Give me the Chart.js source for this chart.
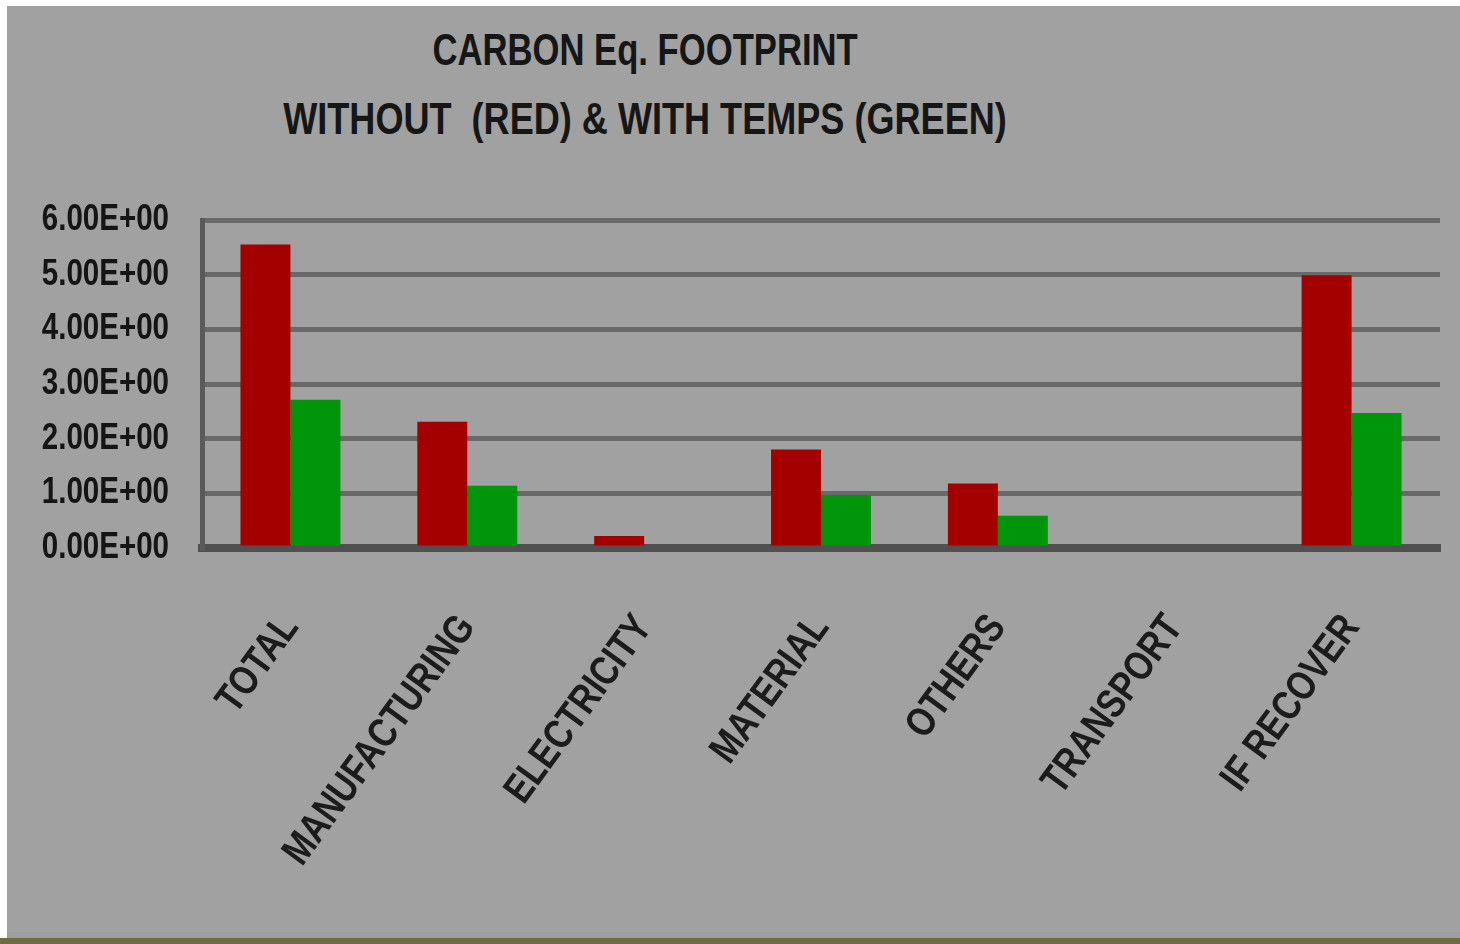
<!DOCTYPE html>
<html>
<head>
<meta charset="utf-8">
<title>Carbon Eq. Footprint</title>
<script src="https://cdn.jsdelivr.net/npm/chart.js@4.4.1/dist/chart.umd.min.js"></script>
<style>
  html, body { margin: 0; padding: 0; background: #ffffff; }
  #page { position: relative; width: 1460px; height: 944px; overflow: hidden; }
  #panel { position: absolute; left: 7px; top: 6px; right: 0; bottom: 6px; background: #a1a1a1; }
  #edge { position: absolute; left: 7px; right: 0; bottom: 6px; height: 6px; background: #9d9da1; }
  #strip { position: absolute; left: 0; right: 0; bottom: 0; height: 6px; background: #6d6c47; }
  #title {
    position: absolute; left: 0; top: 15px; width: 1290px;
    text-align: center; white-space: pre;
    font-family: 'Liberation Sans', Arial, sans-serif;
    font-weight: bold; font-size: 44px; line-height: 69px; color: #161616;
    transform: scaleX(0.82); transform-origin: 645px 0;
  }
  #title .l1 { display: inline-block; transform: scaleX(0.96); }
  canvas { position: absolute; left: 0; top: 0; }
</style>
</head>
<body>
<div id="page">
  <div id="panel"></div>
  <div id="edge"></div>
  <div id="strip"></div>
  <div id="title"><span class="l1">CARBON Eq. FOOTPRINT</span>
WITHOUT  (RED) &amp; WITH TEMPS (GREEN)</div>
  <canvas id="chart" width="1460" height="944"></canvas>
</div>
<script>
// Footprint categories and the two series (without / with temps)
const categories = ['TOTAL', 'MANUFACTURING', 'ELECTRICITY', 'MATERIAL', 'OTHERS', 'TRANSPORT', 'IF RECOVER'];
const withoutTemps = [5.55, 2.31, 0.22, 1.80, 1.18, 0, 4.99];
const withTemps = [2.71, 1.14, 0, 0.97, 0.59, 0, 2.47];
const yTickValues = [0, 1, 2, 3, 4, 5, 6];

const FONT = "'Liberation Sans', Arial, sans-serif";
const NARROW = 0.82; // horizontal squeeze for a narrow-bold look

// Scientific notation with a two-digit exponent, e.g. 3.00E+00
function sci(v) {
  if (v === 0) return '0.00E+00';
  const exp = Math.floor(Math.log10(Math.abs(v)));
  const mant = v / Math.pow(10, exp);
  const sign = exp < 0 ? '-' : '+';
  return mant.toFixed(2) + 'E' + sign + String(Math.abs(exp)).padStart(2, '0');
}

// Draw every canvas label condensed around its own anchor point
const narrowText = {
  id: 'narrowText',
  beforeDraw(chart) {
    const ctx = chart.ctx;
    if (ctx.__narrow) return;
    const orig = ctx.fillText;
    ctx.fillText = function (text, x, y, maxWidth) {
      this.save();
      this.translate(x, y);
      this.scale(NARROW, 1);
      if (maxWidth === undefined) orig.call(this, text, 0, 0);
      else orig.call(this, text, 0, 0, maxWidth / NARROW);
      this.restore();
    };
    ctx.__narrow = true;
  }
};

new Chart(document.getElementById('chart'), {
  type: 'bar',
  data: {
    labels: categories,
    datasets: [
      { label: 'Without temps', data: withoutTemps, backgroundColor: '#a50000', borderWidth: 0 },
      { label: 'With temps', data: withTemps, backgroundColor: '#00950a', borderWidth: 0 }
    ]
  },
  plugins: [narrowText],
  options: {
    responsive: false,
    animation: false,
    layout: { padding: { top: 220, right: 20, left: 0, bottom: 0 } },
    datasets: { bar: { categoryPercentage: 0.565, barPercentage: 1.0 } },
    plugins: { legend: { display: false }, title: { display: false }, tooltip: { enabled: false } },
    scales: {
      x: {
        afterFit(scale) { scale.height = 396; },
        grid: { display: false, drawTicks: false },
        border: { display: true, color: '#505050', width: 8 },
        ticks: {
          autoSkip: false, minRotation: 54, maxRotation: 54, padding: 58,
          color: '#1c1c1c', font: { family: FONT, size: 41, weight: 'bold' }
        }
      },
      y: {
        min: 0, max: 6,
        afterFit(scale) { scale.width = 202; },
        afterBuildTicks(scale) { scale.ticks = yTickValues.map(v => ({ value: v })); },
        grid: { color: '#696969', lineWidth: 5, drawTicks: false },
        border: { display: true, color: '#5a5a5a', width: 5 },
        ticks: {
          padding: 33, color: '#151515',
          font: { family: FONT, size: 36, weight: 'bold' },
          callback: (v) => sci(v)
        }
      }
    }
  }
});
</script>
</body>
</html>
